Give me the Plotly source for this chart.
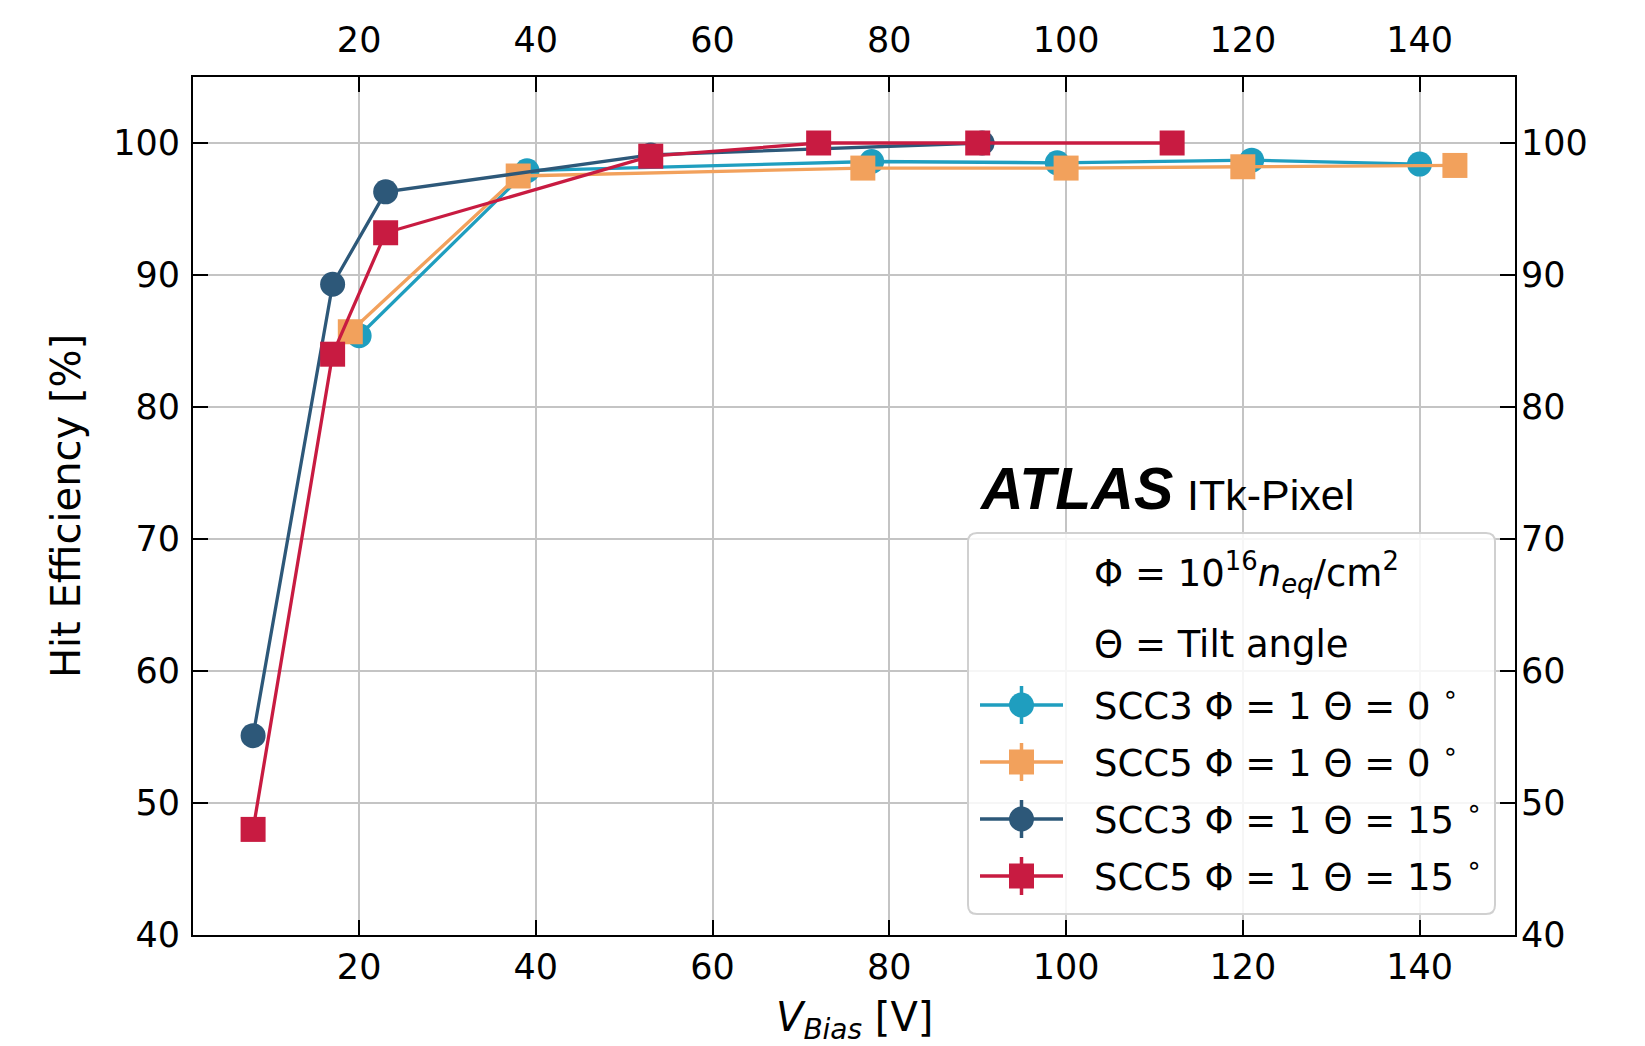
import plotly.graph_objects as go

# ---------------- data ----------------
v_scc3_0 = [20, 39, 78, 99, 121, 140]
e_scc3_0 = [85.4, 97.9, 98.6, 98.5, 98.7, 98.4]

v_scc5_0 = [19, 38, 77, 100, 120, 144]
e_scc5_0 = [85.7, 97.5, 98.1, 98.1, 98.2, 98.3]

v_scc3_15 = [8, 17, 23, 53, 90.5]
e_scc3_15 = [55.1, 89.3, 96.3, 99.1, 100.0]

v_scc5_15 = [8, 17, 23, 53, 72, 90, 112]
e_scc5_15 = [48.0, 84.0, 93.2, 99.0, 100.0, 100.0, 100.0]

x_ticks = [20, 40, 60, 80, 100, 120, 140]
y_ticks = [40, 50, 60, 70, 80, 90, 100]

series_names = ["SCC3 Φ = 1 Θ = 0 <sup>∘</sup>",
                "SCC5 Φ = 1 Θ = 0 <sup>∘</sup>",
                "SCC3 Φ = 1 Θ = 15 <sup>∘</sup>",
                "SCC5 Φ = 1 Θ = 15 <sup>∘</sup>"]
series_colors = ["#1f9ebf", "#f2a15c", "#2d5879", "#c81b41"]
series_symbols = ["circle", "square", "circle", "square"]
series_x = [v_scc3_0, v_scc5_0, v_scc3_15, v_scc5_15]
series_y = [e_scc3_0, e_scc5_0, e_scc3_15, e_scc5_15]

# ---------------- layout geometry ----------------
W, H = 1645, 1046
L, R, T, B = 193, 1515, 77, 935
FONT = "DejaVu Sans"
MS = 25
LW = 3.3

fig = go.Figure()
for xs, ys, c, s, n in zip(series_x, series_y, series_colors, series_symbols, series_names):
    fig.add_trace(go.Scatter(
        x=xs, y=ys, mode="lines+markers", name=n,
        line=dict(color=c, width=LW),
        marker=dict(color=c, size=MS, symbol=s, line=dict(width=0)),
        showlegend=False,
    ))

# empty trace so that the mirrored top / right axes get drawn with their labels
fig.add_trace(go.Scatter(x=[], y=[], xaxis="x2", yaxis="y2", showlegend=False,
                         hoverinfo="skip"))


def px(xp):
    return (xp - L) / (R - L)


def py(yp):
    return (B - yp) / (B - T)


shapes = []
annotations = []

# legend frame (rounded)
lx0, lx1, ly0, ly1, rad = 968, 1495, 533, 914, 9
rx = rad / (R - L)
ry = rad / (B - T)
X0, X1, Y0, Y1 = px(lx0), px(lx1), py(ly1), py(ly0)
path = (f"M {X0+rx},{Y0} L {X1-rx},{Y0} Q {X1},{Y0} {X1},{Y0+ry} "
        f"L {X1},{Y1-ry} Q {X1},{Y1} {X1-rx},{Y1} L {X0+rx},{Y1} "
        f"Q {X0},{Y1} {X0},{Y1-ry} L {X0},{Y0+ry} Q {X0},{Y0} {X0+rx},{Y0} Z")
shapes.append(dict(type="path", xref="paper", yref="paper", path=path,
                   line=dict(color="#d0d0d0", width=2), fillcolor="rgba(255,255,255,0.85)",
                   layer="above"))

# legend header texts
LEG_FS = 37
text_x = 1092
annotations.append(dict(xref="paper", yref="paper", x=px(text_x), y=py(572),
                        xanchor="left", yanchor="middle", showarrow=False,
                        text="Φ = 10<sup>16</sup><i>n</i><sub><i>eq</i></sub>/cm<sup>2</sup>",
                        font=dict(family=FONT, size=LEG_FS, color="black")))
annotations.append(dict(xref="paper", yref="paper", x=px(text_x), y=py(644),
                        xanchor="left", yanchor="middle", showarrow=False,
                        text="Θ = Tilt angle",
                        font=dict(family=FONT, size=LEG_FS, color="black")))

row_y = [705, 762, 819, 876]
for yy, c, s, n in zip(row_y, series_colors, series_symbols, series_names):
    shapes.append(dict(type="line", xref="paper", yref="paper",
                       x0=px(980), x1=px(1063), y0=py(yy), y1=py(yy),
                       line=dict(color=c, width=LW), layer="above"))
    shapes.append(dict(type="line", xref="paper", yref="paper",
                       x0=px(1021.5), x1=px(1021.5), y0=py(yy - 19), y1=py(yy + 19),
                       line=dict(color=c, width=3.5), layer="above"))
    shapes.append(dict(type="circle" if s == "circle" else "rect",
                       xref="paper", yref="paper",
                       xsizemode="pixel", ysizemode="pixel",
                       xanchor=px(1021.5), yanchor=py(yy),
                       x0=-MS / 2, x1=MS / 2, y0=-MS / 2, y1=MS / 2,
                       fillcolor=c, line=dict(width=0), layer="above"))
    annotations.append(dict(xref="paper", yref="paper", x=px(text_x), y=py(yy - 2),
                            xanchor="left", yanchor="middle", showarrow=False,
                            text=n, font=dict(family=FONT, size=LEG_FS, color="black")))

# ATLAS label
annotations.append(dict(xref="paper", yref="paper", x=px(977), y=py(489),
                        xanchor="left", yanchor="middle", showarrow=False,
                        text="<b><i>ATLAS</i></b>",
                        font=dict(family="Liberation Sans", size=59, color="black")))
annotations.append(dict(xref="paper", yref="paper", x=px(1185), y=py(495),
                        xanchor="left", yanchor="middle", showarrow=False,
                        text="ITk-Pixel",
                        font=dict(family="Liberation Sans", size=43, color="black")))

# x-axis title (placed as annotation so it can sit close to the bottom edge)
annotations.append(dict(xref="paper", yref="paper", x=0.5, y=py(1020),
                        xanchor="center", yanchor="middle", showarrow=False,
                        text="<i>V</i><sub><i>Bias</i></sub> [V]",
                        font=dict(family=FONT, size=40, color="black")))

axis_common = dict(
    showline=True, linecolor="black", linewidth=2,
    ticks="inside", ticklen=15, tickwidth=2, tickcolor="black",
    tickfont=dict(family=FONT, size=35, color="black"),
    zeroline=False, automargin=False,
)

fig.update_layout(
    width=W, height=H,
    margin=dict(l=L, r=W - R, t=T, b=H - B, pad=0, autoexpand=False),
    paper_bgcolor="white", plot_bgcolor="white",
    showlegend=False,
    xaxis=dict(range=[1.2, 150.8], tickvals=x_ticks, ticktext=[str(v) for v in x_ticks],
               showgrid=True, gridcolor="#c4c4c4", gridwidth=1.6, mirror="ticks",
               ticklabelstandoff=0,
               **axis_common),
    yaxis=dict(range=[40, 105], tickvals=y_ticks, ticktext=[str(v) for v in y_ticks],
               showgrid=True, gridcolor="#c4c4c4", gridwidth=1.6, mirror="ticks",
               title=dict(text="Hit Efficiency [%]",
                          font=dict(family=FONT, size=40, color="black"), standoff=20),
               ticklabelstandoff=4,
               **axis_common),
    xaxis2=dict(range=[1.2, 150.8], tickvals=x_ticks, ticktext=[str(v) for v in x_ticks],
                overlaying="x", side="top", anchor="y", showgrid=False, showline=False,
                ticks="", zeroline=False, ticklabelstandoff=17, automargin=False,
                tickfont=dict(family=FONT, size=35, color="black")),
    yaxis2=dict(range=[40, 105], tickvals=y_ticks, ticktext=[str(v) for v in y_ticks],
                overlaying="y", side="right", anchor="x", showgrid=False, showline=False,
                ticks="", zeroline=False, ticklabelstandoff=5, automargin=False,
                tickfont=dict(family=FONT, size=35, color="black")),
    shapes=shapes,
    annotations=annotations,
)

fig.write_html("out.html", config={"displayModeBar": False},
               post_script="document.body.style.margin='0px';")
